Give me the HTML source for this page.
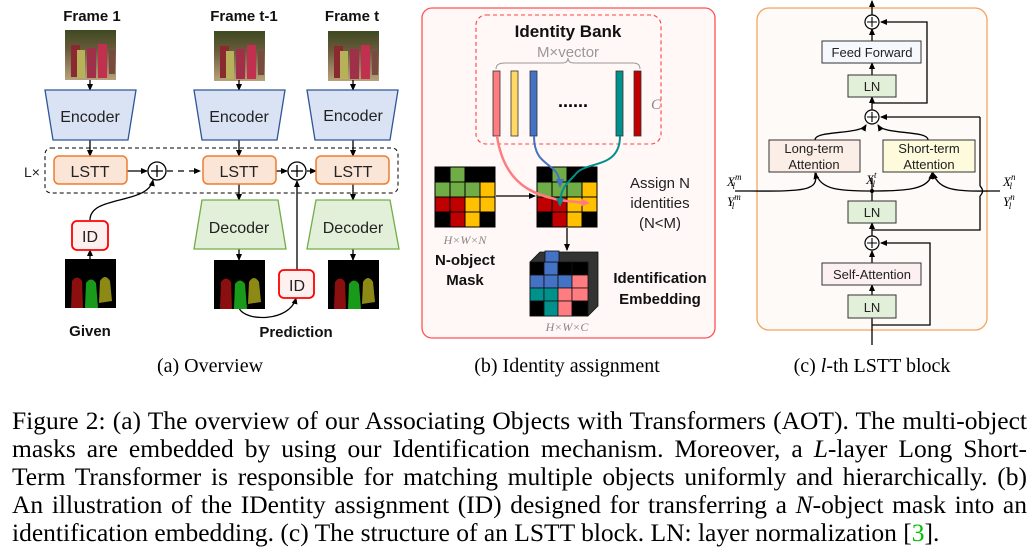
<!DOCTYPE html>
<html><head><meta charset="utf-8"><style>
html,body{margin:0;padding:0;background:#fff;width:1035px;height:556px;overflow:hidden}
svg{position:absolute;left:0;top:0}
.cap{position:absolute;left:12px;width:1015px;font-family:"Liberation Serif",serif;font-size:25.5px;color:#000;text-align:justify;text-align-last:justify;white-space:nowrap;line-height:28px}
</style></head><body>
<svg width="1035" height="400" viewBox="0 0 1035 400" xmlns="http://www.w3.org/2000/svg" font-family="Liberation Sans, DejaVu Sans, sans-serif">
<defs>
<marker id="ah" markerWidth="8" markerHeight="8" refX="6" refY="4" orient="auto" markerUnits="userSpaceOnUse"><path d="M0,1 L7,4 L0,7 z" fill="#000"/></marker>
<marker id="ahp" markerWidth="10" markerHeight="10" refX="7" refY="5" orient="auto" markerUnits="userSpaceOnUse"><path d="M0,1 L9,5 L0,9 z" fill="#ff7c80"/></marker>
<marker id="ahb" markerWidth="10" markerHeight="10" refX="7" refY="5" orient="auto" markerUnits="userSpaceOnUse"><path d="M0,1 L9,5 L0,9 z" fill="#4472c4"/></marker>
<marker id="aht" markerWidth="10" markerHeight="10" refX="7" refY="5" orient="auto" markerUnits="userSpaceOnUse"><path d="M0,1 L9,5 L0,9 z" fill="#00918c"/></marker>
<linearGradient id="ph" x1="0" y1="0" x2="0" y2="1"><stop offset="0" stop-color="#3d4a22"/><stop offset="0.4" stop-color="#6b5a3c"/><stop offset="1" stop-color="#b8a27a"/></linearGradient>
<g id="photo">
<rect width="51" height="50" fill="url(#ph)"/>
<rect x="6" y="15" width="9" height="32" fill="#8a2a30"/><rect x="12" y="20" width="8" height="28" fill="#b7b15a"/>
<rect x="22" y="18" width="9" height="30" fill="#a0304a"/><rect x="33" y="14" width="9" height="34" fill="#c23050"/>
<rect x="44" y="20" width="6" height="24" fill="#7a4a40"/>
</g>
<g id="mask">
<rect width="51" height="49" fill="#000"/>
<path d="M6,49 L7,22 Q12,15 17,22 L18,49z" fill="#8b0f0f"/>
<path d="M20,49 L21,24 Q26,17 31,24 L33,49z" fill="#1a9a1a"/>
<path d="M34,44 L35,22 Q40,14 45,22 L47,42z" fill="#8c8a14"/>
</g>
<g id="grid" stroke="#000" stroke-width="1">
<rect x="0" y="0" width="15" height="15" fill="#000"/><rect x="15" y="0" width="15" height="15" fill="#70ad47"/><rect x="30" y="0" width="15" height="15" fill="#000"/><rect x="45" y="0" width="15" height="15" fill="#000"/>
<rect x="0" y="15" width="15" height="15" fill="#70ad47"/><rect x="15" y="15" width="15" height="15" fill="#70ad47"/><rect x="30" y="15" width="15" height="15" fill="#70ad47"/><rect x="45" y="15" width="15" height="15" fill="#ffc000"/>
<rect x="0" y="30" width="15" height="15" fill="#c00000"/><rect x="15" y="30" width="15" height="15" fill="#c00000"/><rect x="30" y="30" width="15" height="15" fill="#ffc000"/><rect x="45" y="30" width="15" height="15" fill="#ffc000"/>
<rect x="0" y="45" width="15" height="15" fill="#000"/><rect x="15" y="45" width="15" height="15" fill="#c00000"/><rect x="30" y="45" width="15" height="15" fill="#ffc000"/><rect x="45" y="45" width="15" height="15" fill="#000"/>
</g>
</defs>

<!-- Panel a -->
<g font-weight="bold" font-size="15" text-anchor="middle" fill="#111">
<text x="92" y="21">Frame 1</text><text x="244" y="21">Frame t-1</text><text x="352" y="21">Frame t</text>
<text x="90" y="336">Given</text><text x="296" y="337">Prediction</text>
</g>
<use href="#photo" x="65" y="30"/><use href="#photo" x="214" y="31"/><use href="#photo" x="328" y="31"/>
<g stroke="#000" stroke-width="1.3" marker-end="url(#ah)">
<line x1="90" y1="80" x2="90" y2="90"/><line x1="239" y1="80" x2="239" y2="90"/><line x1="353" y1="80" x2="353" y2="90"/>
<line x1="90" y1="140" x2="90" y2="156"/><line x1="239" y1="140" x2="239" y2="156"/><line x1="353" y1="140" x2="353" y2="156"/>
<line x1="239" y1="184" x2="239" y2="200"/><line x1="353" y1="184" x2="353" y2="200"/>
<line x1="239" y1="249" x2="239" y2="260"/><line x1="353" y1="249" x2="353" y2="260"/>
<line x1="90" y1="259" x2="90" y2="250"/>
<line x1="127" y1="171" x2="147" y2="171"/>
<line x1="276" y1="171" x2="287" y2="171"/><line x1="307" y1="171" x2="316" y2="171"/>
<line x1="297" y1="270" x2="297" y2="181"/>
<path d="M90,220 C90,195 148,205 153,180" fill="none"/>
<path d="M239,308 C245,322 290,322 296,298" fill="none"/>
</g>
<line x1="167" y1="171" x2="200" y2="171" stroke="#000" stroke-width="1.3" stroke-dasharray="6,5" marker-end="url(#ah)"/>
<g fill="#dae3f3" stroke="#2f5597" stroke-width="1.3">
<path d="M45,90 L136,90 L128,140 L53,140z"/><path d="M194,90 L285,90 L277,140 L202,140z"/><path d="M307,90 L398,90 L390,140 L315,140z"/>
</g>
<g fill="#e2efd9" stroke="#70ad47" stroke-width="1.3">
<path d="M202,200 L278,200 L286,249 L194,249z"/><path d="M316,200 L390,200 L399,249 L307,249z"/>
</g>
<rect x="45" y="148" width="353" height="45" rx="6" fill="none" stroke="#000" stroke-width="1" stroke-dasharray="4,3"/>
<g fill="#fbe5d6" stroke="#ed7d31" stroke-width="1.5">
<rect x="54" y="156" width="73" height="28" rx="5"/><rect x="203" y="156" width="73" height="28" rx="5"/><rect x="316" y="156" width="73" height="28" rx="5"/>
</g>
<g fill="#fff" stroke="#000" stroke-width="1.3"><circle cx="157" cy="171" r="9"/><circle cx="297" cy="171" r="9"/></g>
<g stroke="#000" stroke-width="1.3"><line x1="151" y1="171" x2="163" y2="171"/><line x1="157" y1="165" x2="157" y2="177"/><line x1="291" y1="171" x2="303" y2="171"/><line x1="297" y1="165" x2="297" y2="177"/></g>
<g fill="#fff0f0" stroke="#ff0000" stroke-width="1.8"><rect x="72" y="221" width="36" height="29" rx="5"/><rect x="279" y="270" width="35" height="28" rx="5"/></g>
<g font-size="16" text-anchor="middle" fill="#222">
<text x="90" y="122">Encoder</text><text x="239" y="122">Encoder</text><text x="353" y="121">Encoder</text>
<text x="90" y="177">LSTT</text><text x="239" y="177">LSTT</text><text x="353" y="177">LSTT</text>
<text x="239" y="233">Decoder</text><text x="353" y="233">Decoder</text>
<text x="90" y="242">ID</text><text x="297" y="291">ID</text>
<text x="32" y="177" font-size="14">L×</text>
</g>
<use href="#mask" x="65" y="259"/><use href="#mask" x="214" y="260"/><use href="#mask" x="328" y="260"/>
<text x="210" y="372" font-family="Liberation Serif, serif" font-size="20" text-anchor="middle">(a) Overview</text>

<!-- Panel b -->
<rect x="422" y="8" width="293" height="330" rx="10" fill="#fff8f7" stroke="#ff5050" stroke-width="1.3"/>
<rect x="476" y="15" width="185" height="129" rx="10" fill="none" stroke="#ff4040" stroke-width="1.1" stroke-dasharray="4,3"/>
<text x="568" y="37" font-size="17" font-weight="bold" text-anchor="middle" fill="#111">Identity Bank</text>
<text x="568" y="57" font-size="15" text-anchor="middle" fill="#999">M×vector</text>
<path d="M496,69 Q496,63 505,63 L562,63 Q568,63 568,58 Q568,63 574,63 L633,63 Q640,63 640,69" fill="none" stroke="#999" stroke-width="1"/>
<g stroke="#333" stroke-width="0.8">
<rect x="493" y="71" width="7" height="65" fill="#ff7c80"/><rect x="511" y="71" width="7" height="65" fill="#ffd966"/>
<rect x="530" y="71" width="7" height="65" fill="#4472c4"/><rect x="616" y="71" width="7" height="65" fill="#00918c"/>
<rect x="634" y="71" width="7" height="65" fill="#c00000"/>
</g>
<text x="573" y="107" font-size="18" font-weight="bold" text-anchor="middle">......</text>
<text x="651" y="109" font-size="15" font-style="italic" fill="#888" font-family="Liberation Serif, serif">C</text>
<use href="#grid" x="435" y="167"/><use href="#grid" x="537" y="167"/>
<g stroke="#000" stroke-width="1.3" marker-end="url(#ah)"><line x1="496" y1="196" x2="535" y2="196"/><line x1="567" y1="228" x2="567" y2="250"/></g>
<path d="M497,136 C505,190 540,200 588,203" fill="none" stroke="#ff7c80" stroke-width="2.5" marker-end="url(#ahp)"/>
<path d="M534,136 C534,170 560,160 560,186" fill="none" stroke="#4472c4" stroke-width="2" marker-end="url(#ahb)"/>
<path d="M620,136 C620,170 585,160 575,175 C565,185 560,190 560,205" fill="none" stroke="#00918c" stroke-width="2" marker-end="url(#aht)"/>
<g stroke="#111" stroke-width="0.8">
<path d="M530,262 L540,252 L598,252 L598,306 L588,316 L530,316z" fill="#333"/>
<rect x="530" y="262" width="14" height="13" fill="#000"/><rect x="544" y="262" width="14" height="13" fill="#4472c4"/><rect x="558" y="262" width="14" height="13" fill="#000"/><rect x="572" y="262" width="16" height="13" fill="#000"/>
<rect x="530" y="275" width="14" height="13" fill="#4472c4"/><rect x="544" y="275" width="14" height="13" fill="#4472c4"/><rect x="558" y="275" width="14" height="13" fill="#4472c4"/><rect x="572" y="275" width="16" height="13" fill="#ff7c80"/>
<rect x="530" y="288" width="14" height="13" fill="#00918c"/><rect x="544" y="288" width="14" height="13" fill="#00918c"/><rect x="558" y="288" width="14" height="13" fill="#ff7c80"/><rect x="572" y="288" width="16" height="13" fill="#ff7c80"/>
<rect x="530" y="301" width="14" height="15" fill="#000"/><rect x="544" y="301" width="14" height="15" fill="#00918c"/><rect x="558" y="301" width="14" height="15" fill="#ff7c80"/><rect x="572" y="301" width="16" height="15" fill="#000"/>
<rect x="545" y="251" width="14" height="11" fill="#4472c4"/>
</g>
<g font-size="15" text-anchor="middle" fill="#222"><text x="660" y="188">Assign N</text><text x="660" y="208">identities</text><text x="660" y="228">(N&lt;M)</text></g>
<g font-size="15" font-weight="bold" text-anchor="middle" fill="#111"><text x="465" y="265">N-object</text><text x="465" y="285">Mask</text><text x="660" y="283">Identification</text><text x="660" y="304">Embedding</text></g>
<g font-size="12" font-style="italic" fill="#888" text-anchor="middle" font-family="Liberation Serif, serif"><text x="465" y="244">H×W×N</text><text x="567" y="331">H×W×C</text></g>
<text x="567" y="372" font-family="Liberation Serif, serif" font-size="20" text-anchor="middle">(b) Identity assignment</text>

<!-- Panel c -->
<rect x="757" y="8" width="230" height="322" rx="12" fill="#fdfaf7" stroke="#f4a460" stroke-width="1.3"/>
<g stroke="#000" stroke-width="1.3" fill="none">
<line x1="872" y1="345" x2="872" y2="318"/>
<polyline points="872,325 930,325 930,243 881,243" marker-end="url(#ah)"/>
<line x1="872" y1="295" x2="872" y2="285" marker-end="url(#ah)"/>
<line x1="872" y1="263" x2="872" y2="251" marker-end="url(#ah)"/>
<line x1="872" y1="236" x2="872" y2="223" marker-end="url(#ah)"/>
<polyline points="872,230 980,230 980,196"/>
<polyline points="980,186 980,117"/>
<path d="M980,196 Q985,191 980,186"/>
<line x1="980" y1="117" x2="881" y2="117" marker-end="url(#ah)"/>
<line x1="872" y1="201" x2="872" y2="178"/>
<path d="M735,191 C800,191 820,193 815,173" marker-end="url(#ah)"/>
<path d="M872,191 C840,191 820,190 816,173"/>
<path d="M872,191 C905,191 930,190 932,173" marker-end="url(#ah)"/>
<path d="M1000,191 C960,191 940,193 933,173" marker-end="url(#ah)"/>
<path d="M815,140 C815,130 860,135 866,125" marker-end="url(#ah)"/>
<path d="M928,140 C928,130 884,135 878,125" marker-end="url(#ah)"/>
<line x1="872" y1="110" x2="872" y2="97" marker-end="url(#ah)"/>
<polyline points="872,103 927,103 927,22 881,22" marker-end="url(#ah)"/>
<line x1="872" y1="75" x2="872" y2="63" marker-end="url(#ah)"/>
<line x1="872" y1="41" x2="872" y2="29" marker-end="url(#ah)"/>
<line x1="872" y1="15" x2="872" y2="1" marker-end="url(#ah)"/>
</g>
<circle cx="872" cy="191" r="2" fill="#000"/>
<g fill="#fff" stroke="#000" stroke-width="1.2"><circle cx="872" cy="22" r="7"/><circle cx="872" cy="117" r="7"/><circle cx="872" cy="243" r="7"/></g>
<g stroke="#000" stroke-width="1.1"><path d="M867,22h10M872,17v10M867,117h10M872,112v10M867,243h10M872,238v10"/></g>
<g stroke="#333" stroke-width="1">
<rect x="822" y="41" width="99" height="22" fill="#f5f8fc"/>
<rect x="848" y="75" width="48" height="22" fill="#e2efd9"/>
<rect x="769" y="140" width="91" height="32" fill="#fbeee6"/>
<rect x="883" y="140" width="92" height="32" fill="#fdfbdc"/>
<rect x="848" y="201" width="48" height="22" fill="#e2efd9"/>
<rect x="822" y="263" width="99" height="22" fill="#fdf0f0"/>
<rect x="848" y="295" width="48" height="23" fill="#e2efd9"/>
</g>
<g font-size="13" text-anchor="middle" fill="#222">
<text x="872" y="57">Feed Forward</text><text x="872" y="91">LN</text>
<text x="814" y="153">Long-term</text><text x="814" y="169">Attention</text>
<text x="929" y="153">Short-term</text><text x="929" y="169">Attention</text>
<text x="872" y="217">LN</text><text x="872" y="279">Self-Attention</text><text x="872" y="312">LN</text>
</g>
<g font-family="Liberation Serif, serif" font-style="italic" font-size="13" fill="#000">
<text x="866" y="184">X<tspan font-size="9" dy="-6">t</tspan><tspan font-size="9" dx="-4" dy="9">l</tspan></text>
<text x="727" y="186">X<tspan font-size="9" dy="-6">m</tspan><tspan font-size="9" dx="-9" dy="9">l</tspan></text>
<text x="727" y="206">Y<tspan font-size="9" dy="-6">m</tspan><tspan font-size="9" dx="-9" dy="9">l</tspan></text>
<text x="1003" y="186">X<tspan font-size="9" dy="-6">n</tspan><tspan font-size="9" dx="-6" dy="9">l</tspan></text>
<text x="1003" y="206">Y<tspan font-size="9" dy="-6">n</tspan><tspan font-size="9" dx="-6" dy="9">l</tspan></text>
</g>
<text x="872" y="372" font-family="Liberation Serif, serif" font-size="20" text-anchor="middle">(c) <tspan font-style="italic">l</tspan>-th LSTT block</text>
</svg>
<div class="cap" style="top:407px">Figure 2: (a) The overview of our Associating Objects with Transformers (AOT). The multi-object</div>
<div class="cap" style="top:435px">masks are embedded by using our Identification mechanism. Moreover, a <i>L</i>-layer Long Short-</div>
<div class="cap" style="top:463px">Term Transformer is responsible for matching multiple objects uniformly and hierarchically. (b)</div>
<div class="cap" style="top:491px">An illustration of the IDentity assignment (ID) designed for transferring a <i>N</i>-object mask into an</div>
<div class="cap" style="top:519px;text-align-last:left;width:auto">identification embedding. (c) The structure of an LSTT block. LN: layer normalization [<span style="color:#00c000">3</span>].</div>
</body></html>
